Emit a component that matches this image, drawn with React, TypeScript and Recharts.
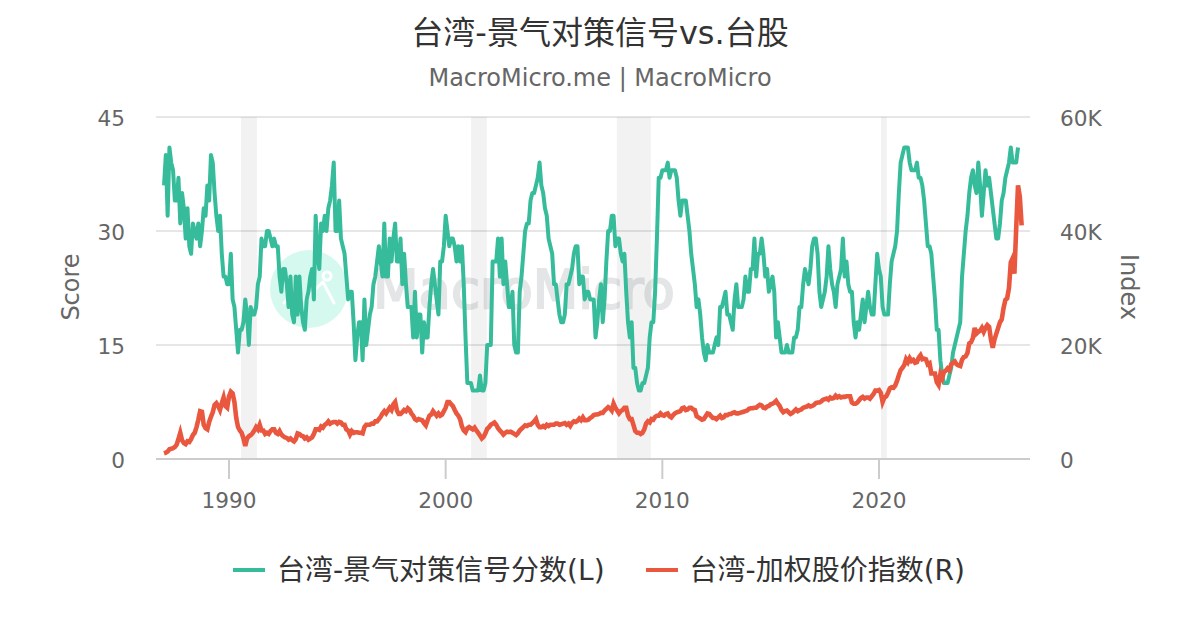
import React from 'react';
import { LineChart, Line, XAxis, YAxis, CartesianGrid, ReferenceArea, Legend } from 'recharts';

const FONT = '"DejaVu Sans","Noto Sans CJK SC",sans-serif';
const GREEN = '#37BC9B';
const RED = '#E9573F';
const startYear = 1987;

// Monthly score, one row per year starting at 1987
const scoreByYear: number[][] = [
  [36,40,32,41,39,38,34,34,37,31,35,33],
  [29,33,28,27,31,30,29,31,28,30,33,32],
  [36,34,40,39,35,32,30,32,27,24,24,23],
  [23,27,21,20,17,14,17,17,18,21,19,15],
  [20,19,19,20,23,24,29,28,28,30,30,29],
  [28,29,28,28,24,22,25,25,23,20,24,19],
  [18,24,19,24,20,18,17,21,22,24,25,21],
  [32,27,25,31,30,32,30,33,34,36,39,30],
  [30,34,29,28,27,24,21,22,22,18,13,16],
  [18,18,13,21,15,17,19,20,23,24,26,28],
  [26,24,31,24,24,29,26,29,31,26,26,29],
  [23,27,23,20,20,20,16,22,16,19,19,14],
  [18,16,16,20,23,25,23,21,19,26,26,28],
  [32,30,28,29,29,28,26,28,26,28,23,16],
  [10,10,10,9,9,9,9,11,9,9,10,15],
  [15,15,26,26,26,29,24,29,23,26,23,20],
  [20,22,15,14,14,22,24,27,30,31,31,34],
  [35,35,36,37,39,36,35,33,32,29,28,27],
  [23,23,21,19,18,18,19,23,23,24,25,27],
  [28,28,23,24,24,21,22,22,21,21,21,16],
  [18,21,23,18,21,26,30,30,32,32,28,29],
  [29,27,26,27,22,18,16,18,12,12,10,9],
  [9,10,10,11,12,16,18,18,22,29,37,37],
  [38,38,38,39,37,38,38,38,37,34,32,34],
  [34,34,32,30,27,25,23,20,21,19,16,14],
  [13,15,14,14,14,15,16,15,20,20,21,22],
  [19,19,18,17,21,23,20,20,20,21,24,22],
  [22,25,25,29,24,27,27,29,27,24,25,22],
  [23,24,22,16,18,16,14,14,14,15,14,14],
  [14,16,16,17,20,20,23,25,24,23,25,28],
  [29,29,27,22,20,21,22,24,28,25,23,22],
  [20,23,24,25,29,24,26,23,22,22,18,16],
  [18,17,19,21,18,20,22,20,19,19,23,27],
  [25,24,20,19,19,19,23,26,27,28,30,35],
  [39,40,41,41,41,39,38,38,38,39,37,37],
  [36,34,31,28,28,27,24,21,17,17,13,11],
  [10,10,10,11,12,14,15,16,17,18,24,27],
  [30,32,35,37,38,36,35,39,36,32,35,38],
  [36,37,35,33,31,29,29,31,34,35,37,38],
  [39,41,39,39,39,41],
];

// Monthly index level in thousands, one row per year starting at 1987
const indexByYear: number[][] = [
  [1.0,1.1,1.3,1.7,1.8,1.9,2.1,2.5,3.5,4.6,3.3,2.8],
  [2.6,3.1,3.0,3.5,4.2,4.6,5.6,6.9,8.4,8.3,6.0,5.4],
  [5.2,6.5,7.4,8.2,9.5,9.8,9.3,8.6,9.8,10.8,9.3,9.0],
  [11.0,11.8,11.5,10.0,7.2,5.6,5.0,4.6,3.6,2.3,3.6,4.0],
  [4.2,4.5,5.0,5.6,5.2,6.0,5.0,5.0,4.4,4.6,4.4,4.9],
  [5.2,5.2,4.6,4.4,4.9,4.3,4.0,3.8,3.7,3.4,3.6,3.3],
  [3.1,3.5,4.5,4.4,4.1,4.0,3.6,3.8,3.4,3.6,3.8,4.4],
  [5.2,5.2,5.1,5.7,5.5,6.0,6.2,6.6,6.2,6.4,6.5,6.5],
  [6.2,6.5,6.4,6.0,6.0,5.2,5.0,4.3,4.9,4.6,4.7,4.7],
  [4.6,4.6,4.5,5.6,6.0,6.0,6.0,6.2,6.2,6.6,6.6,7.0],
  [7.4,8.0,8.4,8.0,8.5,9.0,8.6,9.6,10.0,8.5,7.9,7.9],
  [8.2,8.6,8.4,8.9,8.6,8.0,7.6,7.0,6.8,7.0,6.9,6.8],
  [6.3,5.9,6.8,7.6,7.8,8.4,8.0,7.6,8.0,7.6,7.8,8.4],
  [9.0,10.0,10.0,9.6,9.3,8.6,8.0,7.6,7.0,5.7,5.0,4.7],
  [5.4,5.6,5.4,5.2,5.5,5.0,4.6,4.1,3.6,3.9,4.5,5.3],
  [5.6,6.0,6.2,6.4,6.0,5.4,5.0,4.7,4.3,4.6,4.8,4.7],
  [4.8,4.6,4.4,4.2,4.5,5.0,5.3,5.6,5.9,5.8,6.0,6.0],
  [6.3,6.6,7.0,6.0,5.6,5.6,5.8,5.6,6.0,5.8,6.0,6.0],
  [6.0,6.2,6.2,6.0,6.1,6.2,6.3,6.0,6.2,5.8,6.3,6.6],
  [6.5,6.7,7.1,6.8,7.3,6.8,6.8,6.9,7.2,7.4,7.7,7.8],
  [7.8,7.9,8.1,8.1,8.5,8.8,9.1,8.9,8.5,9.7,9.0,8.5],
  [8.0,8.4,8.6,9.0,9.0,7.6,7.0,7.0,6.0,4.9,4.6,4.6],
  [4.4,4.6,5.2,6.2,6.6,6.4,7.0,6.9,7.4,7.6,7.6,8.0],
  [7.7,7.6,7.9,8.0,7.5,7.3,7.7,8.0,8.2,8.3,8.4,8.9],
  [9.0,8.6,8.7,9.0,9.0,8.7,8.6,7.5,7.3,7.1,6.9,7.0],
  [7.5,8.0,7.9,7.5,7.2,7.2,7.0,7.3,7.6,7.2,7.3,7.7],
  [7.7,7.9,7.9,8.1,8.2,8.0,8.0,8.1,8.2,8.3,8.4,8.5],
  [8.8,8.9,8.9,9.0,9.0,9.3,9.5,9.4,9.0,8.9,9.2,9.3],
  [9.6,9.7,9.9,10.2,9.7,9.3,8.6,8.2,8.4,8.5,8.2,7.9],
  [8.1,8.4,8.7,8.4,8.6,8.7,9.0,9.1,9.2,9.4,9.2,9.3],
  [9.5,9.8,9.9,9.9,10.1,10.4,10.5,10.6,10.4,10.8,10.6,10.7],
  [11.1,10.8,11.0,10.8,10.9,10.9,11.0,11.0,11.0,9.9,9.7,9.7],
  [9.9,10.3,10.7,10.9,10.6,10.8,10.8,10.6,11.0,11.4,12.0,12.0],
  [12.1,11.6,10.0,10.8,11.0,11.6,12.4,12.6,12.5,12.9,13.7,14.7],
  [15.6,16.0,16.5,17.5,17.0,17.7,17.2,17.4,16.9,17.0,17.8,18.2],
  [17.5,17.6,17.5,16.6,16.8,15.0,15.0,15.0,13.5,13.0,14.9,14.2],
  [15.3,15.5,15.9,15.6,16.6,16.9,17.1,16.6,16.4,16.3,17.4,17.9],
  [18.0,18.6,20.3,20.5,21.2,23.0,22.0,22.3,22.5,23.0,22.3,23.0],
  [23.5,23.2,21.0,19.5,21.0,22.0,23.0,24.0,24.5,26.5,27.9,28.2],
  [30.0,34.5,35.2,32.5,40.5,48.0,46.0,41.0],
];

const xTicks = [1990, 2000, 2010, 2020];
const scoreTicks = [0, 15, 30, 45];
const indexTicks = [0, 20000, 40000, 60000];
const recessions: [number, number][] = [
  [1990.55, 1991.29],
  [2001.17, 2001.9],
  [2007.9, 2009.47],
  [2020.09, 2020.36],
];

const scores = scoreByYear.flat();
const indexK = indexByYear.flat();
const table = indexK.map((v, i) => ({
  t: startYear + i / 12,
  score: i < scores.length ? scores[i] : null,
  index: v * 1000,
}));

const names = { score: '台湾-景气对策信号分数(L)', index: '台湾-加权股价指数(R)' };
const tickStyle = { fill: '#666666', fontSize: 21.6, fontFamily: FONT };
const axisTitleStyle = { fill: '#666666', fontSize: 24, fontFamily: FONT, textAnchor: 'middle' };

const LegendBox = ({ payload }: any) => (
  <div style={{ display: 'flex', justifyContent: 'center', gap: 41, fontFamily: FONT, fontSize: 28, color: '#333333', whiteSpace: 'nowrap', height: 40, alignItems: 'center', paddingRight: 2 }}>
    {(payload || []).map((p: any) => (
      <span key={p.value} style={{ display: 'inline-flex', alignItems: 'center' }}>
        <span style={{ width: 32, height: 4, background: p.color, marginRight: 12, marginTop: 3 }} />
        {p.value}
      </span>
    ))}
  </div>
);

export default function App() {
  return (
    <div style={{ position: 'absolute', left: 0, top: 0, width: 1200, height: 630, background: '#fff', overflow: 'hidden' }}>
      <svg width={1200} height={630} style={{ position: 'absolute', left: 0, top: 0 }}>
        <circle cx={309} cy={289} r={39} fill="#D5F9EE" />
        <g fill="none" stroke="#fff" strokeWidth={3} strokeLinecap="round" strokeLinejoin="round">
          <circle cx={327} cy={276} r={4} />
          <polyline points="284,303 296,291 304,300 323,282 334,303" />
        </g>
        <text x={373} y={308} fontFamily={FONT} fontSize={52.8} fill="#E4E5E6" stroke="#E4E5E6" strokeWidth={2}>MacroMicro</text>
      </svg>
      <div style={{ position: 'absolute', left: 0, top: 13, width: 1200, textAlign: 'center', fontFamily: FONT, fontSize: 32, color: '#333333', lineHeight: '40px' }}>台湾-景气对策信号vs.台股</div>
      <div style={{ position: 'absolute', left: 0, top: 63, width: 1200, textAlign: 'center', fontFamily: FONT, fontSize: 24, color: '#666666', lineHeight: '30px' }}>MacroMicro.me | MacroMicro</div>
      <LineChart width={1200} height={630} data={table} margin={{ top: 117, right: 70, bottom: 91, left: 56 }} style={{ position: 'absolute', left: 0, top: 0 }}>
        <CartesianGrid vertical={false} stroke="#E6E6E6" strokeWidth={2} yAxisId="left" />
        {recessions.map(([a, b]) => (
          <ReferenceArea key={a} x1={a} x2={b} yAxisId="left" fill="#000000" fillOpacity={0.05} stroke="none" />
        ))}
        <XAxis dataKey="t" type="number" domain={[1986.63, 2026.97]} ticks={xTicks} tickFormatter={(v) => String(v)} height={40} tick={tickStyle} tickSize={20} tickMargin={14} stroke="#CCCCCC" strokeWidth={2} allowDataOverflow />
        <YAxis yAxisId="left" domain={[0, 45]} ticks={scoreTicks} width={100} tick={{ ...tickStyle, dy: 1 }} tickLine={false} axisLine={false} tickSize={0} tickMargin={31} label={{ value: 'Score', angle: -90, position: 'insideLeft', offset: 0, dx: 14, dy: -1, style: axisTitleStyle }} />
        <YAxis yAxisId="right" orientation="right" domain={[0, 60000]} ticks={indexTicks} width={100} tick={{ ...tickStyle, textAnchor: 'start', dy: 1 }} tickLine={false} axisLine={false} tickSize={0} tickMargin={30} tickFormatter={(v) => (v === 0 ? '0' : `${v / 1000}K`)} label={{ value: 'Index', angle: 90, position: 'insideRight', offset: 0, dy: -1, style: axisTitleStyle }} />
        <Legend content={<LegendBox />} itemSorter={null} height={40} wrapperStyle={{ position: 'absolute', left: 0, width: 1200, top: 548 }} />
        <Line yAxisId="left" dataKey="score" name={names.score} stroke={GREEN} strokeWidth={4} dot={false} isAnimationActive={false} connectNulls={false} strokeLinejoin="round" />
        <Line yAxisId="right" dataKey="index" name={names.index} stroke={RED} strokeWidth={4.6} dot={false} isAnimationActive={false} connectNulls={false} />
      </LineChart>
    </div>
  );
}
